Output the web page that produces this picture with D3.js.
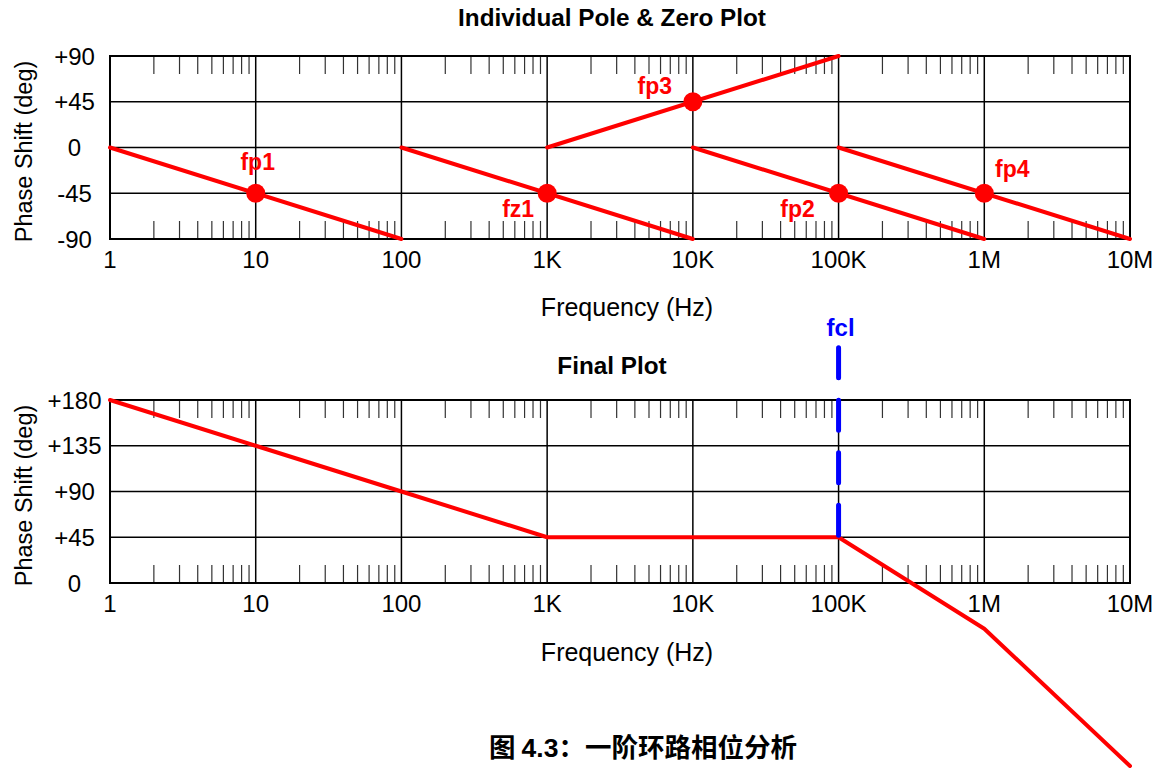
<!DOCTYPE html>
<html><head><meta charset="utf-8">
<script src="https://cdn.jsdelivr.net/npm/d3@7"></script>
<style>body{margin:0;background:#fff}svg{display:block}text{font-family:"Liberation Sans",Arial,sans-serif}</style>
</head><body><svg id="c" width="1159" height="768"></svg>
<script>
const decades = [1, 10, 100, 1e3, 1e4, 1e5, 1e6, 1e7];
const decadeLabels = ["1", "10", "100", "1K", "10K", "100K", "1M", "10M"];
const topTicks = [90, 45, 0, -45, -90];
const topTickLabels = ["+90", "+45", "0", "-45", "-90"];
const botTicks = [180, 135, 90, 45, 0];
const botTickLabels = ["+180", "+135", "+90", "+45", "0"];
// individual pole/zero segments: [f, phase] at start and end
const segNames = ["fp1", "fz1", "fp3", "fp2", "fp4"];
const segStart = [[1, 0], [100, 0], [1e3, 0], [1e4, 0], [1e5, 0]];
const segEnd = [[100, -90], [1e4, -90], [1e5, 90], [1e6, -90], [1e7, -90]];
const dotFreq = [10, 1e3, 1e4, 1e5, 1e6];
const dotPhase = [-45, -45, 45, -45, -45];
// final plot
const finalFreq = [1, 10, 100, 1e3, 1e5, 1e6, 1e7];
const finalPhase = [180, 135, 90, 45, 45, -45, -180];
const fclFreq = 1e5;

const svg = d3.select("#c");
const x = d3.scaleLog().domain([1, 1e7]).range([110, 1130]);
const yTop = d3.scaleLinear().domain([-90, 90]).range([239, 56]);
const yBot = d3.scaleLinear().domain([0, 180]).range([583, 400]);

function panel(y, ticks, tlabels, title, titleY, xlabY, xtitleY) {
  const g = svg.append("g");
  const [y0, y1] = [y.range()[1], y.range()[0]];
  const minors = [];
  for (let d = 0; d < 7; d++) for (let k = 2; k <= 9; k++) minors.push(decades[d] * k);
  g.selectAll(".mt").data(minors).join("line")
    .attr("x1", d => x(d)).attr("x2", d => x(d)).attr("y1", y0).attr("y2", y0 + 18)
    .attr("stroke", "#333").attr("stroke-width", 1.2);
  g.selectAll(".mb").data(minors).join("line")
    .attr("x1", d => x(d)).attr("x2", d => x(d)).attr("y1", y1).attr("y2", y1 - 18)
    .attr("stroke", "#333").attr("stroke-width", 1.2);
  g.selectAll(".gv").data(decades).join("line")
    .attr("x1", d => x(d)).attr("x2", d => x(d)).attr("y1", y0).attr("y2", y1)
    .attr("stroke", "#000").attr("stroke-width", 1.5);
  g.selectAll(".gh").data(ticks).join("line")
    .attr("x1", 110).attr("x2", 1130).attr("y1", d => y(d)).attr("y2", d => y(d))
    .attr("stroke", "#000").attr("stroke-width", 1.5);
  g.append("rect").attr("x", 110).attr("y", y0).attr("width", 1020).attr("height", y1 - y0)
    .attr("fill", "none").attr("stroke", "#000").attr("stroke-width", 2);
  g.selectAll(".yl").data(ticks).join("text")
    .attr("x", 74.5).attr("y", d => y(d)).attr("dy", "0.36em").attr("text-anchor", "middle")
    .attr("font-size", 24).text((d, i) => tlabels[i]);
  g.selectAll(".xl").data(decades).join("text")
    .attr("x", d => x(d)).attr("y", xlabY).attr("text-anchor", "middle")
    .attr("font-size", 24).text((d, i) => decadeLabels[i]);
  g.append("text").attr("x", 627).attr("y", xtitleY).attr("text-anchor", "middle")
    .attr("font-size", 25).text("Frequency (Hz)");
  g.append("text").attr("transform", `translate(32,${(y0 + y1) / 2 + 4}) rotate(-90)`)
    .attr("text-anchor", "middle").attr("font-size", 23.5).text("Phase Shift (deg)");
  g.append("text").attr("x", 612).attr("y", titleY).attr("text-anchor", "middle")
    .attr("font-size", 24.3).attr("font-weight", "bold").text(title);
}
panel(yTop, topTicks, topTickLabels, "Individual Pole & Zero Plot", 26, 268, 316);
panel(yBot, botTicks, botTickLabels, "Final Plot", 374, 612, 661);

svg.selectAll(".seg").data(segNames).join("line")
  .attr("x1", (d, i) => x(segStart[i][0])).attr("y1", (d, i) => yTop(segStart[i][1]))
  .attr("x2", (d, i) => x(segEnd[i][0])).attr("y2", (d, i) => yTop(segEnd[i][1]))
  .attr("stroke", "#ff0000").attr("stroke-width", 4).attr("stroke-linecap", "round");
svg.selectAll(".dot").data(dotFreq).join("circle")
  .attr("cx", d => x(d)).attr("cy", (d, i) => yTop(dotPhase[i])).attr("r", 9.5).attr("fill", "#ff0000");
const labOff = [[2, -23], [-29, 24], [-38, -8], [-41, 24], [28, -16]];
svg.selectAll(".dl").data(segNames).join("text")
  .attr("x", (d, i) => x(dotFreq[i]) + labOff[i][0]).attr("y", (d, i) => yTop(dotPhase[i]) + labOff[i][1])
  .attr("text-anchor", "middle")
  .attr("font-size", 23).attr("font-weight", "bold").attr("fill", "#ff0000").text(d => d);

svg.append("path").datum(finalFreq.map((f, i) => [f, finalPhase[i]]))
  .attr("d", d3.line().x(d => x(d[0])).y(d => yBot(d[1])))
  .attr("fill", "none").attr("stroke", "#ff0000").attr("stroke-width", 4)
  .attr("stroke-linecap", "round").attr("stroke-linejoin", "round");
svg.append("line").attr("x1", x(fclFreq)).attr("x2", x(fclFreq)).attr("y1", yBot(45) - 2).attr("y2", 343)
  .attr("stroke", "#0000ff").attr("stroke-width", 5).attr("stroke-linecap", "round")
  .attr("stroke-dasharray", "30,22.5");
svg.append("text").attr("x", x(fclFreq) + 2).attr("y", 336).attr("text-anchor", "middle")
  .attr("font-size", 24).attr("font-weight", "bold").attr("fill", "#0000ff").text("fcl");

const cap = svg.append("text").attr("x", 643).attr("y", 757).attr("text-anchor", "middle")
  .attr("font-size", 26.5).attr("font-weight", "bold");
cap.append("tspan").attr("font-family", "Noto Sans CJK SC").text("图 ");
cap.append("tspan").attr("font-family", "Liberation Sans").text("4.3");
cap.append("tspan").attr("font-family", "Noto Sans CJK SC").text("：一阶环路相位分析");
</script></body></html>
